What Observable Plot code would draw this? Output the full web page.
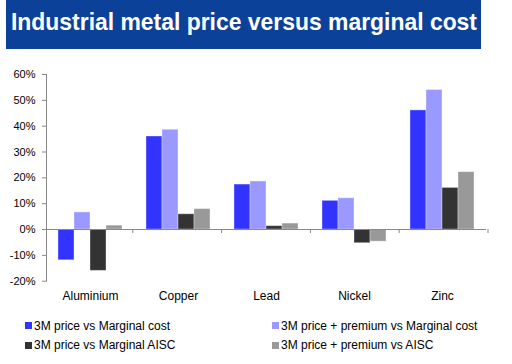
<!DOCTYPE html>
<html><head><meta charset="utf-8">
<script src="https://cdn.jsdelivr.net/npm/d3@7"></script>
<script src="https://cdn.jsdelivr.net/npm/@observablehq/plot@0.6"></script>
<style>
body{margin:0;background:#fff;font-family:Arial,"Liberation Sans",sans-serif;}
#wrap{position:relative;width:512px;height:364px;overflow:hidden;background:#fff;}
#banner{position:absolute;left:6px;top:0;width:475px;height:49px;background:#0c4199;overflow:hidden;}
#title{position:absolute;left:4.5px;top:7px;font-size:24.5px;font-weight:bold;color:#fff;white-space:nowrap;line-height:30px;transform-origin:0 0;}
#chart{position:absolute;left:0;top:50px;}
.leg{position:absolute;font-size:12px;color:#000;white-space:nowrap;line-height:14px;display:flex;align-items:center;}
.sw{display:inline-block;width:7px;height:7px;margin-right:2px;}
</style></head>
<body>
<div id="wrap">
  <div id="banner"><span id="title">Industrial metal price versus marginal cost</span></div>
  <div id="chart"></div>
  <div id="legend"></div>
</div>
<script>
const metals = ["Aluminium", "Copper", "Lead", "Nickel", "Zinc"];
const seriesNames = [
  "3M price vs Marginal cost",
  "3M price + premium vs Marginal cost",
  "3M price vs Marginal AISC",
  "3M price + premium vs AISC"
];
const seriesColors = ["#3333ff", "#9999ff", "#333333", "#999999"];
const priceVsMarginal = [-11.9, 36.0, 17.4, 11.1, 46.1];
const premiumVsMarginal = [6.6, 38.6, 18.6, 12.1, 54.0];
const priceVsAISC = [-16.0, 5.9, 1.3, -5.3, 16.1];
const premiumVsAISC = [1.5, 7.9, 2.3, -4.7, 22.2];
const yTicks = [-20, -10, 0, 10, 20, 30, 40, 50, 60];

// fit the title width to the banner text width of the reference
const titleEl = document.getElementById("title");
const tw = titleEl.getBoundingClientRect().width;
titleEl.style.transform = `scaleX(${466 / tw})`;

const seriesValues = [priceVsMarginal, premiumVsMarginal, priceVsAISC, premiumVsAISC];
const rows = [];
metals.forEach((m, i) => seriesNames.forEach((s, j) => rows.push({metal: m, series: s, value: seriesValues[j][i]})));

const plot = Plot.plot({
  width: 512,
  height: 260,
  marginTop: 24,
  marginBottom: 29.3,
  marginLeft: 44,
  marginRight: 24,
  style: {fontFamily: "Arial, 'Liberation Sans', sans-serif", fontSize: "11px", color: "#888", background: "transparent", overflow: "visible"},
  facet: {data: rows, x: "metal"},
  fx: {domain: metals, padding: 0, label: null, tickSize: 0, tickPadding: 10},
  x: {domain: seriesNames, paddingInner: 0, paddingOuter: 0.74, axis: null},
  y: {domain: [-20, 60], ticks: yTicks, tickFormat: d => d + "%", tickSize: 4, tickPadding: 7, label: null, line: true},
  color: {domain: seriesNames, range: seriesColors},
  marks: [
    Plot.barY(rows, {x: "series", y: "value", fill: "series", stroke: "#ffffff", strokeOpacity: 0.35, strokeWidth: 1}),
    Plot.ruleY([0], {stroke: "#888"})
  ]
});
document.getElementById("chart").appendChild(plot);

// boundary tick marks between categories, placed with the fx scale
const fxd = plot.scale("fx");
const fx = d3.scaleBand(fxd.domain, fxd.range).paddingInner(fxd.paddingInner || 0).paddingOuter(fxd.paddingOuter || 0);
const yS = plot.scale("y");
const y0 = d3.scaleLinear(yS.domain, yS.range)(0);
const svg = d3.select(plot.tagName.toLowerCase() === "svg" ? plot : plot.querySelector("svg"));
metals.forEach(m => {
  const xb = fx(m) + fx.bandwidth();
  svg.append("line").attr("x1", xb).attr("x2", xb).attr("y1", y0).attr("y2", y0 + 4).attr("stroke", "#888");
});
svg.selectAll("text").style("fill", "#000").each(function() {
  if (metals.includes(this.textContent)) d3.select(this).style("font-size", "12px");
});

// legend
const legPos = [[25, 318.7], [272, 318.7], [25, 338], [272, 338]];
const leg = d3.select("#legend");
seriesNames.forEach((s, i) => {
  const d = leg.append("div").attr("class", "leg").style("left", legPos[i][0] + "px").style("top", legPos[i][1] + "px");
  d.append("span").attr("class", "sw").style("background", seriesColors[i]);
  d.append("span").text(s);
});
</script>
</body></html>
